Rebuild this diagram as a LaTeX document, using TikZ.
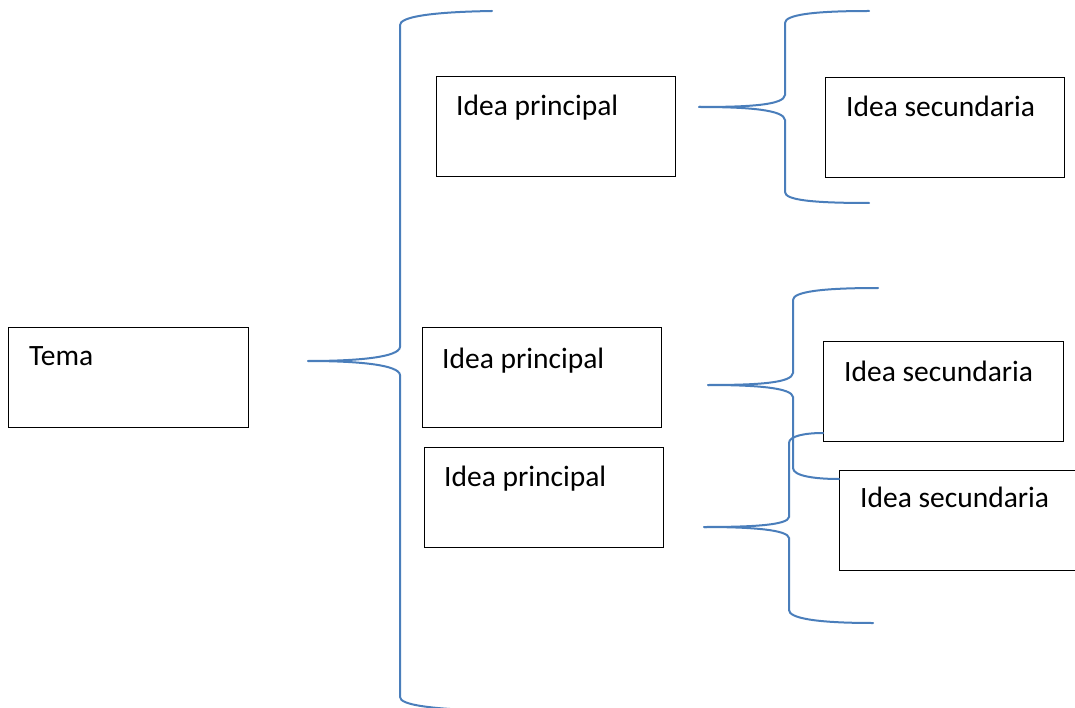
\documentclass[tikz,border=0pt]{standalone}
\usepackage{fontspec}
\setmainfont{Carlito}
\begin{document}
\begin{tikzpicture}[x=1pt,y=-1pt,
  box/.style={draw=black,line width=1.3pt,rectangle,anchor=north west,inner sep=0pt,minimum width=240pt,minimum height=100pt},
  lbl/.style={anchor=base west,inner sep=0pt,font=\fontsize{29.5}{35}\selectfont},
  bracestyle/.style={draw={rgb,255:red,74;green,126;blue,187},line width=2pt,line cap=round}]
\useasboundingbox (0,0) rectangle (1075,708);
% boxes
\node[box] (tema) at (8,327) {};
\node[box,minimum width=239pt] (ip1) at (436,76) {};
\node[box,minimum width=239pt] (ip2) at (422,327) {};
\node[box,minimum width=239pt] (ip3) at (424,447) {};
\node[box,minimum width=239pt] (is1) at (825,77) {};
\node[box,minimum width=240pt] (is2) at (823,341) {};
\node[box,minimum width=260pt] (is3) at (839,470) {};
% labels
\node[lbl] (tTema) at ([shift={(21,38)}]tema.north west) {Tema};
\node[lbl] (tIp1) at ([shift={(20,40)}]ip1.north west) {Idea principal};
\node[lbl] (tIp2) at ([shift={(20,41)}]ip2.north west) {Idea principal};
\node[lbl] (tIp3) at ([shift={(20,39)}]ip3.north west) {Idea principal};
\node[lbl] (tIs1) at ([shift={(21,40)}]is1.north west) {Idea secundaria};
\node[lbl] (tIs2) at ([shift={(21,40)}]is2.north west) {Idea secundaria};
\node[lbl] (tIs3) at ([shift={(21,37)}]is3.north west) {Idea secundaria};
% brace ends
\coordinate (aTip) at (308,361);
\coordinate (aTop) at (492,11);
\coordinate (aBot) at (492,711);
\coordinate (bTip) at (699,107);
\coordinate (bTop) at (869,11);
\coordinate (bBot) at (869,203);
\coordinate (cTip) at (708,385);
\coordinate (cTop) at (878,288);
\coordinate (cBot) at (is3.west |- 0,479);
\coordinate (dTip) at (704,527);
\coordinate (dTop) at (is2.west |- 0,433);
\coordinate (dBot) at (873,623);
% brace A
\draw[bracestyle] (aTip) .. controls (360,361) and (399,357) .. (400,347) -- (400,25)
  .. controls (400,17) and (430,12) .. (aTop);
\draw[bracestyle] (aTip) .. controls (360,361) and (399,365) .. (400,375) -- (400,697)
  .. controls (400,705) and (430,709) .. (aBot);
% brace B
\draw[bracestyle] (bTip) .. controls (750,107) and (784,105) .. (785,95) -- (785,23)
  .. controls (785,15) and (812,11) .. (bTop);
\draw[bracestyle] (bTip) .. controls (750,107) and (784,110) .. (785,120) -- (785,192)
  .. controls (785,200) and (812,203) .. (bBot);
% brace C
\draw[bracestyle] (cTip) .. controls (758,385) and (792,383) .. (793,373) -- (793,300)
  .. controls (793,292) and (820,288) .. (cTop);
\draw[bracestyle] (cTip) .. controls (758,385) and (792,388) .. (793,397) -- (793,468)
  .. controls (793,476) and (815,479) .. (cBot);
% brace D
\draw[bracestyle] (dTip) .. controls (754,527) and (788,525) .. (789,517) -- (789,443)
  .. controls (789,436) and (805,433) .. (dTop);
\draw[bracestyle] (dTip) .. controls (754,527) and (788,530) .. (789,538) -- (789,610)
  .. controls (789,618) and (815,623) .. (dBot);
\end{tikzpicture}
\end{document}
